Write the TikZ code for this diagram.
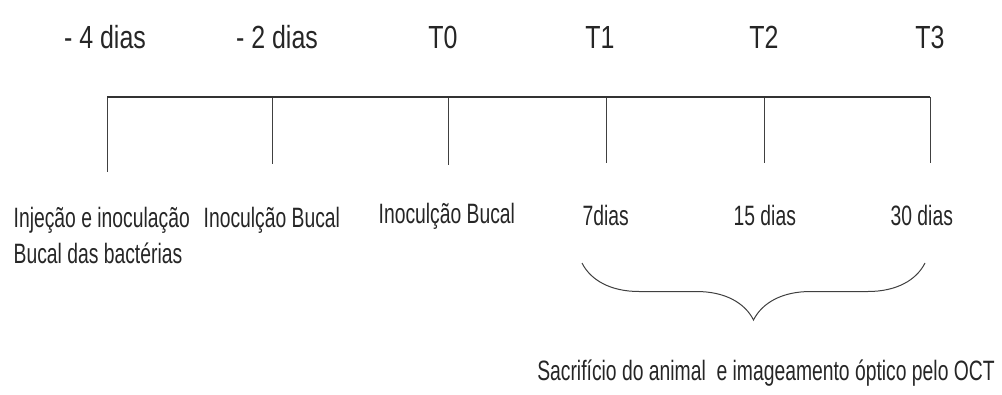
\documentclass[tikz,border=0pt]{standalone}
\usepackage{fontspec}
\setmainfont{Liberation Sans}[FakeStretch=0.69]
\newfontfamily\tickfont{Liberation Sans}[FakeStretch=0.78]
\usetikzlibrary{decorations.pathreplacing}

\begin{document}
\begin{tikzpicture}[x=1pt, y=-1pt, line width=1.3pt,
  tick/.style={line width=1pt, draw=black!75},
  toplabel/.style={anchor=base, font=\tickfont\fontsize{32}{36}\selectfont, text=black!85, inner sep=0pt},
  botlabel/.style={anchor=base west, font=\fontsize{28}{36}\selectfont, text=black!85, inner sep=0pt, align=left}]
  \useasboundingbox (0,0) rectangle (1002,394);
  % Timeline and time points
  \foreach \name/\x/\lx/\len/\txt in {m4/107/105/172/{- 4 dias}, m2/272/277/164/{- 2 dias}, t0/448/443/165/T0, t1/606/600/163/T1, t2/764/764/163/T2, t3/930/930/163/T3}
  {
    \coordinate (\name-top) at (\x,97);
    \coordinate (\name-bot) at (\x,\len);
    \node[toplabel] (\name-lab) at (\lx,48) {\txt};
    \draw[tick] (\name-top) -- (\name-bot);
  }
  \draw[draw=black!80] (m4-top) -- (t3-top);
  % Events
  \node[botlabel] (inj) at (13,263) {Injeção e inoculação\\Bucal das bactérias};
  \node[botlabel] (inoc1) at (203,227) {Inoculção Bucal};
  \node[botlabel] (inoc2) at (378,223) {Inoculção Bucal};
  \node[botlabel] (d7) at (582,225) {7dias};
  \node[botlabel] (d15) at (733,225) {15 dias};
  \node[botlabel] (d30) at (890,225) {30 dias};
  % Brace
  \coordinate (bl) at (582,263);
  \coordinate (br) at (925,263);
  \draw[draw=black!75, line width=1pt, decorate, decoration={brace, mirror, amplitude=57pt}] (bl) -- (br);
  \node[botlabel, anchor=base] (oct) at (766,380) {Sacrifício do animal\ \ e imageamento óptico pelo OCT};
\end{tikzpicture}
\end{document}
